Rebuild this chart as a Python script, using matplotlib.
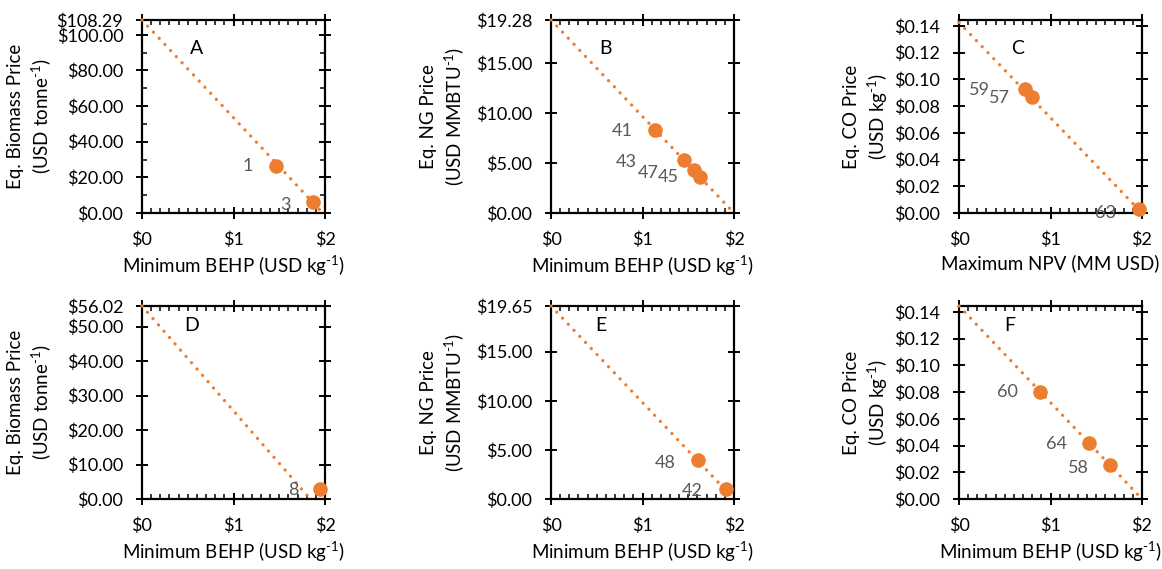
import matplotlib
matplotlib.use("Agg")
import matplotlib.pyplot as plt
from matplotlib.ticker import FixedLocator, MultipleLocator, FuncFormatter

plt.rcParams["font.family"] = ["Lato", "DejaVu Sans"]
plt.rcParams["mathtext.fontset"] = "custom"
plt.rcParams["mathtext.rm"] = "Lato"
plt.rcParams["mathtext.it"] = "Lato"

ORANGE = "#ED7D31"
GREY = "#595959"

# ---- data for each panel -------------------------------------------------
# scatter points (x, y), their case numbers, and the break-even line
# (y-intercept, x-intercept)
a_x = [1.461, 1.872]
a_y = [26.5, 6.3]
a_ids = ["1", "3"]
a_line = (108.29, 1.975)

b_x = [1.141, 1.452, 1.561, 1.627]
b_y = [8.34, 5.27, 4.34, 3.60]
b_ids = ["41", "43", "47", "45"]
b_line = (19.28, 2.0)

c_x = [0.723, 0.803, 1.963]
c_y = [0.0925, 0.0865, 0.0033]
c_ids = ["59", "57", "63"]
c_line = (0.1426, 2.0)

d_x = [1.945]
d_y = [2.92]
d_ids = ["8"]
d_line = (56.02, 1.84)

e_x = [1.605, 1.909]
e_y = [3.92, 1.06]
e_ids = ["48", "42"]
e_line = (19.65, 2.0)

f_x = [0.880, 1.420, 1.646]
f_y = [0.0798, 0.0417, 0.0253]
f_ids = ["60", "64", "58"]
f_line = (0.1445, 2.0)

# y-axis ticks per panel
a_yticks = [0, 20, 40, 60, 80, 100, 108.29]
b_yticks = [0, 5, 10, 15, 19.28]
c_yticks = [0, 0.02, 0.04, 0.06, 0.08, 0.10, 0.12, 0.14]
d_yticks = [0, 10, 20, 30, 40, 50, 56.02]
e_yticks = [0, 5, 10, 15, 19.65]
f_yticks = [0, 0.02, 0.04, 0.06, 0.08, 0.10, 0.12, 0.14]
x_ticks = [0, 1, 2]

SUP = "$^{\u2010\\mathrm{1}}$"
biomass_label = "Eq. Biomass Price\n(USD tonne" + SUP + ")"
ng_label = "Eq. NG Price\n(USD MMBTU" + SUP + ")"
co_label = "Eq. CO Price\n(USD kg" + SUP + ")"
behp_label = "Minimum BEHP (USD kg" + SUP + ")"
npv_label = "Maximum NPV (MM USD)"

# label offsets (pixels) of the case numbers relative to their points
a_off = [(-28, 0), (-28, -3)]
b_off = [(-33, -1), (-58, -2), (-46, -3), (-32, 0)]
c_off = [(-46, -1), (-33, -1), (-33, -4)]
d_off = [(-27, -1)]
e_off = [(-33, -3), (-33, -2)]
f_off = [(-32, 0), (-32, -1), (-31, -3)]

# name, x, y, ids, line, yticks, ymax, ylabel, xlabel, offsets,
# y minor step, letter position, ylabel x (axes coords)
panels = [
    ("A", a_x, a_y, a_ids, a_line, a_yticks, 108.29, biomass_label, behp_label, a_off, 10, (0.30, 0.85), -0.486),
    ("B", b_x, b_y, b_ids, b_line, b_yticks, 19.28, ng_label, behp_label, b_off, None, (0.30, 0.85), -0.462),
    ("C", c_x, c_y, c_ids, c_line, c_yticks, 0.1445, co_label, npv_label, c_off, None, (0.32, 0.85), -0.377),
    ("D", d_x, d_y, d_ids, d_line, d_yticks, 56.02, biomass_label, behp_label, d_off, None, (0.27, 0.90), -0.486),
    ("E", e_x, e_y, e_ids, e_line, e_yticks, 19.65, ng_label, behp_label, e_off, None, (0.27, 0.90), -0.462),
    ("F", f_x, f_y, f_ids, f_line, f_yticks, 0.1445, co_label, behp_label, f_off, None, (0.28, 0.90), -0.377),
]

W, H = 1162, 569
fig = plt.figure(figsize=(W / 100, H / 100), dpi=100)

lefts = [142, 551, 959]
tops = [20, 306]
aw, ah = 183, 193

for i, (name, xs, ys, ids, line, yticks, ymax, ylab, xlab, offs, yminor,
        letter_pos, ylab_x) in enumerate(panels):
    row, col = divmod(i, 3)
    l, t = lefts[col], tops[row]
    ax = fig.add_axes([l / W, 1 - (t + ah) / H, aw / W, ah / H])

    yint, xint = line
    ax.plot([0, xint], [yint, 0], color=ORANGE, lw=2.4,
            linestyle=(0, (0.01, 2.5)), dash_capstyle="round",
            solid_capstyle="round", zorder=2, clip_on=False)
    ax.plot(xs, ys, "o", color=ORANGE, markersize=10.5, markeredgewidth=0,
            zorder=3, clip_on=False)
    for x, y, s, (dx, dy) in zip(xs, ys, ids, offs):
        ax.annotate(s, (x, y), xytext=(dx, dy), textcoords="offset pixels",
                    ha="center", va="center", color=GREY, fontsize=13, zorder=4)

    ax.text(letter_pos[0], letter_pos[1], name, transform=ax.transAxes,
            ha="center", va="center", fontsize=14, color="black")

    ax.set_xlim(0, 2)
    ax.set_ylim(0, ymax)
    ax.xaxis.set_major_locator(FixedLocator(x_ticks))
    ax.xaxis.set_major_formatter(FuncFormatter(lambda v, p: f"${v:.0f}"))
    ax.xaxis.set_minor_locator(MultipleLocator(0.1))
    ax.yaxis.set_major_locator(FixedLocator(yticks))
    ax.yaxis.set_major_formatter(FuncFormatter(lambda v, p: f"${v:.2f}"))
    if yminor:
        ax.yaxis.set_minor_locator(MultipleLocator(yminor))

    for sp in ax.spines.values():
        sp.set_linewidth(1.6)
        sp.set_zorder(1)
    ax.tick_params(which="major", direction="inout", length=9, width=1.4,
                   top=True, right=True, labelsize=13, colors="black")
    ax.tick_params(axis="y", which="major", pad=9)
    ax.tick_params(axis="x", which="major", pad=9)
    ax.tick_params(which="minor", direction="in", length=3.5, width=1.1,
                   top=True, right=True)

    ax.set_ylabel(ylab, fontsize=13.5, linespacing=1.3)
    ax.yaxis.set_label_coords(ylab_x, 0.5)
    ax.set_xlabel(xlab, fontsize=13.5, labelpad=4)

fig.savefig("out.png", dpi=100)
